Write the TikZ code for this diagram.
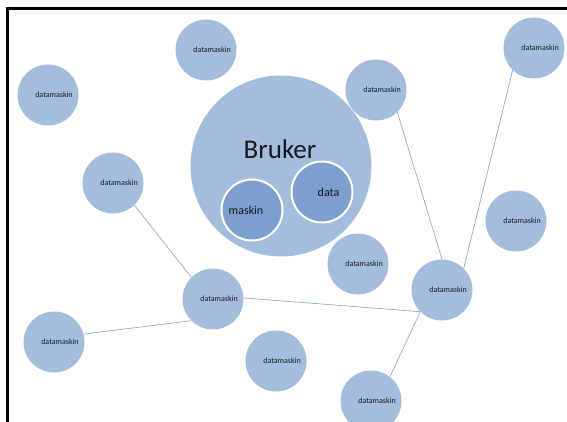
\documentclass[tikz,border=0pt]{standalone}
\usepackage{fontspec}
\setmainfont{Carlito}
\usepackage{xcolor}
\definecolor{bubble}{HTML}{A5BDDD}
\definecolor{bubbledark}{HTML}{7D9FCD}
\definecolor{linkcol}{HTML}{93A9CA}
\definecolor{labeltext}{HTML}{14181F}

\begin{document}
\begin{tikzpicture}[x=1pt, y=-1pt,
    pc/.style={circle, fill=bubble, minimum size=61pt, inner sep=0pt,
        font=\fontsize{8}{9}\selectfont, text=labeltext,
        execute at begin node={\hspace*{12pt}}},
    part/.style={circle, fill=bubbledark, draw=white, line width=2pt,
        minimum size=61pt, inner sep=0pt,
        font=\fontsize{12}{14}\selectfont, text=labeltext},
    link/.style={draw=linkcol, line width=0.7pt}]
    \useasboundingbox (0,0) rectangle (567,422);
    \clip (0,0) rectangle (567,422);

    % Frame
    \draw[line width=3pt] (7.5,424) -- (7.5,8.5) -- (569,8.5);

    % User
    \node[circle, fill=bubble, minimum size=181pt, inner sep=0pt] (bruker) at (281,166) {};
    \node[font=\fontsize{27}{31}\selectfont, text=labeltext] (brukertxt) at (280,149) {Bruker};
    \node[part] (maskin) at (252,210) {maskin\hspace*{12pt}};
    \node[part] (data) at (322,192) {\hspace*{13pt}data};

    % Machines
    \node[pc] (pc1) at (48,95) {datamaskin};
    \node[pc] (pc2) at (206,50) {datamaskin};
    \node[pc] (pc3) at (376,90) {datamaskin};
    \node[pc] (pc4) at (534,48) {datamaskin};
    \node[pc] (pc5) at (113,183) {datamaskin};
    \node[pc] (pc6) at (516,221) {datamaskin};
    \node[pc] (pc7) at (358,264) {datamaskin};
    \node[pc] (pc8) at (213,299) {datamaskin};
    \node[pc] (pc9) at (442,290) {datamaskin};
    \node[pc] (pc10) at (54,342) {datamaskin};
    \node[pc] (pc11) at (276,361) {datamaskin};
    \node[pc] (pc12) at (371,401) {datamaskin};

    % Links
    \draw[link] (pc5.314) -- (pc8.135);
    \draw[link] (pc10.15) -- (pc8.225);
    \draw[link] (pc8.2) -- (pc9.225);
    \draw[link] (pc9.225) -- (pc12.52);
    \draw[link] (pc3.314) -- (pc9.90);
    \draw[link] (pc4.226) -- (pc9.45);
\end{tikzpicture}
\end{document}
